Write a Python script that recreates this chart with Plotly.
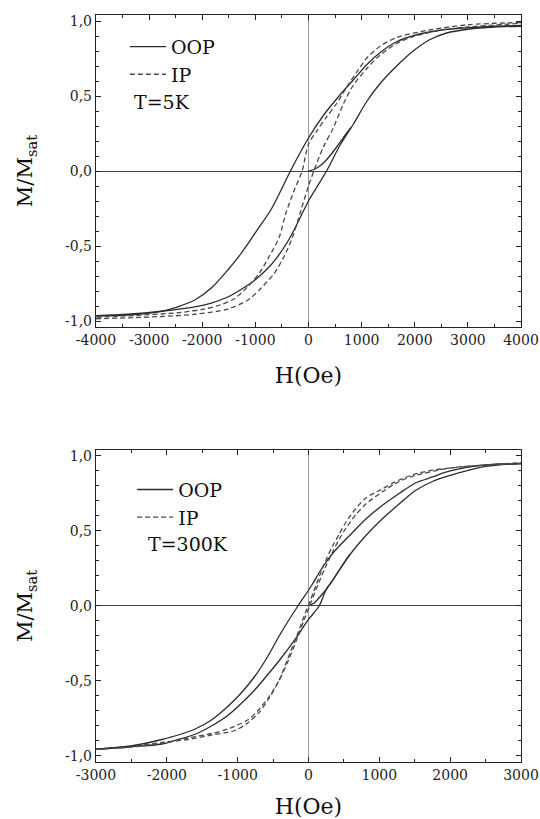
import plotly.graph_objects as go
from plotly.subplots import make_subplots

# ---- T = 5 K ----
h_oop5_down = [4000, 3500, 3000, 2500, 2000, 1650, 1350, 1100, 850, 600, 300, 0, -340, -520, -710, -960, -1270, -1520, -1830, -2140, -2460, -2770, -3400, -4000]
m_oop5_down = [0.97, 0.965, 0.955, 0.94, 0.905, 0.86, 0.79, 0.71, 0.61, 0.51, 0.38, 0.22, 0.0, -0.13, -0.26, -0.39, -0.55, -0.66, -0.78, -0.86, -0.905, -0.935, -0.96, -0.965]
h_oop5_up = [-4000, -3400, -2770, -2140, -1830, -1520, -1270, -1020, -770, -580, -390, -210, 0, 340, 590, 840, 1090, 1340, 1660, 1970, 2280, 2600, 3000, 3500, 4000]
m_oop5_up = [-0.965, -0.955, -0.935, -0.905, -0.88, -0.84, -0.79, -0.73, -0.65, -0.57, -0.47, -0.35, -0.20, 0.0, 0.17, 0.31, 0.46, 0.58, 0.70, 0.80, 0.875, 0.92, 0.945, 0.96, 0.965]
h_oop5_init = [0, 100, 200, 300, 400, 530, 650, 800]
m_oop5_init = [0, 0.01, 0.03, 0.06, 0.10, 0.16, 0.22, 0.29]

h_ip5_down = [4000, 3000, 2280, 1660, 1340, 1090, 910, 720, 530, 340, 160, 0, -120, -270, -425, -550, -740, -925, -1140, -1390, -1640, -1960, -2460, -3400, -4000]
m_ip5_down = [0.99, 0.975, 0.94, 0.89, 0.83, 0.75, 0.66, 0.56, 0.45, 0.36, 0.27, 0.18, 0.0, -0.13, -0.28, -0.44, -0.57, -0.68, -0.77, -0.85, -0.89, -0.92, -0.945, -0.965, -0.975]
h_ip5_up = [-4000, -2770, -2140, -1520, -1140, -890, -640, -460, -300, -140, 0, 100, 280, 470, 660, 840, 1090, 1340, 1660, 1970, 2500, 3000, 4000]
m_ip5_up = [-0.985, -0.97, -0.955, -0.92, -0.86, -0.78, -0.68, -0.57, -0.44, -0.26, -0.10, 0.0, 0.16, 0.29, 0.45, 0.57, 0.68, 0.77, 0.85, 0.895, 0.94, 0.96, 0.985]

# ---- T = 300 K ----
h_oop300_down = [3000, 2500, 2000, 1750, 1510, 1280, 1040, 810, 580, 340, 200, 60, 0, -150, -390, -580, -760, -950, -1140, -1370, -1600, -1840, -2070, -2300, -2540, -3000]
m_oop300_down = [0.95, 0.94, 0.90, 0.86, 0.82, 0.75, 0.67, 0.58, 0.47, 0.35, 0.26, 0.15, 0.105, 0.0, -0.18, -0.34, -0.47, -0.58, -0.67, -0.76, -0.82, -0.86, -0.89, -0.915, -0.935, -0.955]
h_oop300_up = [-3000, -2540, -2070, -1840, -1600, -1370, -1140, -950, -760, -580, -390, -200, 0, 150, 250, 340, 435, 580, 810, 1040, 1280, 1510, 1750, 2000, 2500, 3000]
m_oop300_up = [-0.955, -0.94, -0.92, -0.89, -0.855, -0.80, -0.73, -0.65, -0.56, -0.46, -0.35, -0.23, -0.09, 0.0, 0.11, 0.17, 0.24, 0.34, 0.47, 0.58, 0.68, 0.77, 0.83, 0.87, 0.93, 0.95]
h_oop300_init = [0, 80, 160, 250, 340, 450, 580]
m_oop300_init = [0, 0.02, 0.06, 0.11, 0.17, 0.25, 0.34]

h_ip300_down = [3000, 2500, 2000, 1750, 1510, 1280, 1040, 810, 670, 530, 435, 340, 250, 155, 60, -40, -150, -300, -410, -550, -700, -860, -1040, -1370, -1700, -2070, -2500, -3000]
m_ip300_down = [0.95, 0.94, 0.92, 0.905, 0.88, 0.84, 0.78, 0.72, 0.65, 0.56, 0.48, 0.40, 0.31, 0.20, 0.08, -0.04, -0.18, -0.36, -0.49, -0.61, -0.71, -0.78, -0.83, -0.86, -0.89, -0.91, -0.935, -0.955]
h_ip300_up = [-3000, -2500, -2070, -1700, -1370, -1140, -860, -700, -550, -420, -300, -180, -60, 40, 150, 250, 340, 440, 530, 670, 810, 1040, 1280, 1510, 2000, 2500, 3000]
m_ip300_up = [-0.955, -0.94, -0.915, -0.88, -0.85, -0.82, -0.76, -0.69, -0.60, -0.50, -0.38, -0.24, -0.09, 0.03, 0.16, 0.27, 0.36, 0.45, 0.52, 0.61, 0.68, 0.76, 0.83, 0.87, 0.92, 0.94, 0.955]

y_ticks = [-1.0, -0.5, 0.0, 0.5, 1.0]
y_labels = ["-1,0", "-0,5", "0,0", "0,5", "1,0"]
x5_ticks = [-4000, -3000, -2000, -1000, 0, 1000, 2000, 3000, 4000]
x300_ticks = [-3000, -2000, -1000, 0, 1000, 2000, 3000]

FONT = "DejaVu Serif"
SOLID = "#2b2b2b"
DASHED = "#4a4a4a"

fig = make_subplots(rows=2, cols=1)

def add_loop(row, curves, dash, name, legend):
    for i, (h, m) in enumerate(curves):
        fig.add_trace(go.Scatter(
            x=h, y=m, mode="lines", line_shape="spline",
            line=dict(color=SOLID if dash == "solid" else DASHED, width=1.3, dash=dash, smoothing=0.8),
            name=name, legendgroup=name + legend, showlegend=(i == 0), legend=legend,
            hoverinfo="skip"), row=row, col=1)

add_loop(1, [(h_oop5_down, m_oop5_down), (h_oop5_up, m_oop5_up), (h_oop5_init, m_oop5_init)], "solid", "OOP", "legend")
add_loop(1, [(h_ip5_down, m_ip5_down), (h_ip5_up, m_ip5_up)], "5px,3px", "IP", "legend")
add_loop(2, [(h_oop300_down, m_oop300_down), (h_oop300_up, m_oop300_up), (h_oop300_init, m_oop300_init)], "solid", "OOP", "legend2")
add_loop(2, [(h_ip300_down, m_ip300_down), (h_ip300_up, m_ip300_up)], "5px,3px", "IP", "legend2")

def axis_style(ticks, labels):
    return dict(
        tickmode="array", tickvals=ticks, ticktext=labels,
        ticks="inside", ticklen=5, tickwidth=1.2, tickcolor="#222",
        showline=True, linecolor="#222", linewidth=1.4, mirror="ticks",
        showgrid=False, zeroline=True, zerolinewidth=1, automargin=False,
        ticklabeloverflow="allow",
        tickfont=dict(family=FONT, size=14, color="#222"),
    )

x_title = dict(text="H(Oe)", font=dict(family=FONT, size=22, color="#111"), standoff=20)
fig.update_xaxes(range=[-4000, 4000], minor=dict(dtick=500, tick0=0, ticks="inside", ticklen=3, tickcolor="#222"),
                 zerolinecolor="#9a9a9a", title=x_title,
                 **axis_style(x5_ticks, [str(v) for v in x5_ticks]), row=1, col=1)
fig.update_xaxes(range=[-3000, 3000], minor=dict(dtick=500, tick0=0, ticks="inside", ticklen=3, tickcolor="#222"),
                 zerolinecolor="#9a9a9a", title=x_title,
                 **axis_style(x300_ticks, [str(v) for v in x300_ticks]), row=2, col=1)
for r in (1, 2):
    fig.update_yaxes(range=[-1.04, 1.04], minor=dict(dtick=0.1, tick0=0, ticks="inside", ticklen=3, tickcolor="#222"),
                     zerolinecolor="#444",
                     title=dict(text="M/M<sub>sat</sub>", font=dict(family=FONT, size=21, color="#111"), standoff=26),
                     **axis_style(y_ticks, y_labels), row=r, col=1)

fig.update_layout(
    width=540, height=819,
    margin=dict(l=96, r=19, t=15, b=57),
    paper_bgcolor="white", plot_bgcolor="white",
    yaxis=dict(domain=[0.5823, 1.0]),
    yaxis2=dict(domain=[0.0, 0.4177]),
    legend=dict(x=0.068, y=0.983, xanchor="left", yanchor="top", bgcolor="rgba(0,0,0,0)",
                font=dict(family=FONT, size=19, color="#111"), tracegroupgap=0, itemwidth=36),
    legend2=dict(x=0.085, y=0.390, xanchor="left", yanchor="top", bgcolor="rgba(0,0,0,0)",
                 font=dict(family=FONT, size=19, color="#111"), tracegroupgap=0, itemwidth=36),
    annotations=[
        dict(x=-3330, y=0.46, xref="x", yref="y", text="T=5K", showarrow=False, xanchor="left",
             font=dict(family=FONT, size=19, color="#111")),
        dict(x=-2300, y=0.41, xref="x2", yref="y2", text="T=300K", showarrow=False, xanchor="left",
             font=dict(family=FONT, size=19, color="#111")),
    ],
)

# drop the default 8px page margin so the 540x819 figure fills the window exactly
fig.write_html("out.html", config={"displayModeBar": False},
               post_script="document.body.style.margin='0';")
